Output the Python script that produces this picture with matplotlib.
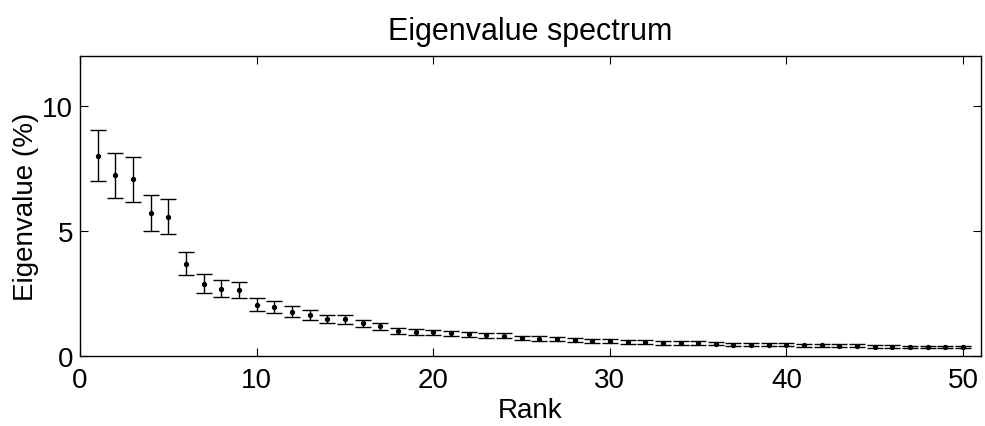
import matplotlib.pyplot as plt
import numpy as np

plt.rcParams['font.family'] = ['Liberation Sans', 'DejaVu Sans']

rank = np.arange(1, 51)
eig_mean = [8.01, 7.22, 7.07, 5.72, 5.57, 3.68, 2.89, 2.69, 2.64, 2.05,
            1.96, 1.77, 1.63, 1.47, 1.46, 1.29, 1.17, 0.97, 0.95, 0.93,
            0.89, 0.86, 0.82, 0.79, 0.71, 0.68, 0.66, 0.64, 0.60, 0.58,
            0.55, 0.54, 0.51, 0.51, 0.50, 0.48, 0.44, 0.44, 0.44, 0.43,
            0.42, 0.42, 0.39, 0.39, 0.36, 0.36, 0.35, 0.35, 0.34, 0.34]
eig_err = [1.02, 0.90, 0.90, 0.72, 0.71, 0.46, 0.37, 0.34, 0.33, 0.26,
           0.24, 0.22, 0.20, 0.18, 0.18, 0.16, 0.15, 0.12, 0.12, 0.11,
           0.11, 0.10, 0.10, 0.10, 0.09, 0.09, 0.09, 0.08, 0.08, 0.08,
           0.07, 0.07, 0.07, 0.07, 0.07, 0.07, 0.06, 0.06, 0.06, 0.06,
           0.06, 0.06, 0.06, 0.06, 0.05, 0.05, 0.05, 0.05, 0.05, 0.05]

fig = plt.figure(figsize=(9.85, 4.27), dpi=100)
ax = fig.add_axes([0.0812, 0.1646, 0.9145, 0.7019])

ax.errorbar(rank, eig_mean, yerr=eig_err, fmt='o', color='k', ecolor='k',
            markersize=2.8, elinewidth=1.0, capsize=6, capthick=1.0)

ax.set_xlim(0, 51)
ax.set_ylim(0, 12)
ax.set_xticks([0, 10, 20, 30, 40, 50])
ax.set_yticks([0, 5, 10])
ax.tick_params(direction='in', length=6, width=0.8, labelsize=20,
               top=True, right=True)
ax.tick_params(axis='x', pad=8)
ax.tick_params(axis='y', pad=5)
for s in ax.spines.values():
    s.set_linewidth(1.0)

ax.set_xlabel('Rank', fontsize=20, labelpad=3)
ax.set_ylabel('Eigenvalue (%)', fontsize=20, labelpad=2)
ax.set_title('Eigenvalue spectrum', fontsize=22, pad=12)

fig.savefig('out.png', dpi=100)
